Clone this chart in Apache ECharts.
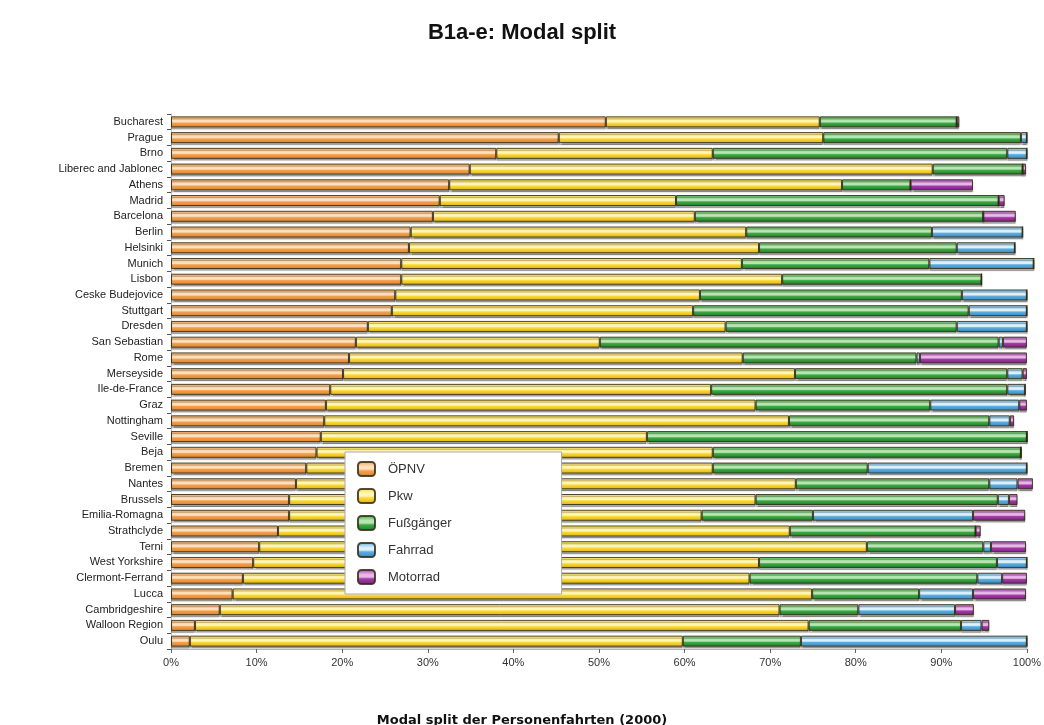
<!DOCTYPE html>
<html>
<head>
<meta charset="utf-8">
<script src="https://cdn.jsdelivr.net/npm/echarts@6/dist/echarts.min.js"></script>
<style>
  html, body { margin: 0; padding: 0; background: #fff; }
  #chart { width: 1044px; height: 725px; }
</style>
</head>
<body>
<div id="chart"></div>
<script>
const cities = [
  'Bucharest', 'Prague', 'Brno', 'Liberec and Jablonec', 'Athens', 'Madrid', 'Barcelona',
  'Berlin', 'Helsinki', 'Munich', 'Lisbon', 'Ceske Budejovice', 'Stuttgart', 'Dresden',
  'San Sebastian', 'Rome', 'Merseyside', 'Ile-de-France', 'Graz', 'Nottingham', 'Seville',
  'Beja', 'Bremen', 'Nantes', 'Brussels', 'Emilia-Romagna', 'Strathclyde', 'Terni',
  'West Yorkshire', 'Clermont-Ferrand', 'Lucca', 'Cambridgeshire', 'Walloon Region', 'Oulu'
];

// Anteile in %
const opnv = [50.8, 45.3, 38.0, 34.9, 32.5, 31.4, 30.6, 28.0, 27.8, 26.9, 26.9, 26.2, 25.8, 23.0,
  21.6, 20.8, 20.1, 18.6, 18.1, 17.9, 17.5, 17.0, 15.8, 14.6, 13.8, 13.8, 12.5, 10.3,
  9.6, 8.4, 7.2, 5.7, 2.8, 2.2];
const pkw = [25.0, 30.9, 25.3, 54.1, 45.9, 27.6, 30.6, 39.2, 40.9, 39.8, 44.5, 35.6, 35.2, 41.8,
  28.5, 46.0, 52.8, 44.5, 50.2, 54.3, 38.1, 46.3, 47.5, 58.4, 54.5, 48.2, 59.8, 71.0,
  59.1, 59.2, 67.7, 65.4, 71.7, 57.6];
const fuss = [16.0, 23.1, 34.4, 10.5, 8.0, 37.7, 33.7, 21.7, 23.1, 21.9, 23.3, 30.6, 32.2, 27.0,
  46.6, 20.3, 24.8, 34.6, 20.4, 23.4, 44.4, 36.0, 18.1, 22.6, 28.3, 13.0, 21.7, 13.6,
  27.8, 26.6, 12.5, 9.2, 17.8, 13.8];
const fahrrad = [0, 0.7, 2.3, 0, 0, 0, 0, 10.6, 6.8, 12.2, 0, 7.6, 6.8, 8.2,
  0.5, 0.4, 1.8, 2.1, 10.4, 2.4, 0, 0, 18.6, 3.3, 1.3, 18.7, 0, 0.9,
  3.5, 2.9, 6.3, 11.3, 2.4, 26.4];
const motorrad = [0.3, 0, 0, 0.4, 7.3, 0.7, 3.8, 0, 0, 0, 0, 0, 0, 0,
  2.8, 12.5, 0.5, 0, 0.9, 0.5, 0, 0, 0, 1.8, 1.0, 6.1, 0.6, 4.1,
  0, 2.9, 6.2, 2.2, 0.9, 0];

const xTicks = [0, 10, 20, 30, 40, 50, 60, 70, 80, 90, 100];

// Farbverlauf mit heller Mittellinie wie im Original
function shade(base, light, dark) {
  return new echarts.graphic.LinearGradient(0, 0, 0, 1, [
    { offset: 0, color: base },
    { offset: 0.35, color: light },
    { offset: 0.5, color: light },
    { offset: 0.62, color: base },
    { offset: 1, color: dark },
  ]);
}

const modes = [
  { name: 'ÖPNV', data: opnv, c: ['#F5A04C', '#FDE0BD', '#D9822E'] },
  { name: 'Pkw', data: pkw, c: ['#FDD835', '#FFF6B8', '#D9B21A'] },
  { name: 'Fußgänger', data: fuss, c: ['#3DAA45', '#B8E6B2', '#1E7A28'] },
  { name: 'Fahrrad', data: fahrrad, c: ['#5AAEE0', '#DDF0FB', '#3A86BC'] },
  { name: 'Motorrad', data: motorrad, c: ['#A43AA8', '#E8B8E8', '#7A1F7E'] },
];

const chart = echarts.init(document.getElementById('chart'));

chart.setOption({
  animation: false,
  textStyle: { fontFamily: 'Liberation Sans, Arial, sans-serif' },
  title: [
    {
      text: 'B1a-e: Modal split',
      left: 'center',
      top: 17,
      textStyle: { fontSize: 22, fontWeight: 'bold', color: '#111' },
    },
    {
      text: 'Modal split der Personenfahrten (2000)',
      left: 'center',
      top: 709,
      textStyle: { fontSize: 13, fontWeight: 'bold', color: '#111', fontFamily: 'DejaVu Sans' },
    },
  ],
  legend: {
    orient: 'vertical',
    left: 345,
    top: 452,
    itemWidth: 17,
    itemHeight: 14,
    itemGap: 11,
    padding: [9, 110, 9, 12],
    backgroundColor: '#fff',
    borderColor: '#aaa',
    borderWidth: 1,
    textStyle: { fontSize: 13, color: '#333', padding: [0, 0, 0, 8] },
    data: modes.map(m => m.name),
  },
  grid: { left: 171, right: 17, top: 114, bottom: 76 },
  xAxis: {
    type: 'value',
    min: 0,
    max: 100,
    interval: 10,
    axisLine: { show: true, lineStyle: { color: '#bbb' } },
    axisTick: { show: true, length: 4, lineStyle: { color: '#666' } },
    splitLine: { show: false },
    axisLabel: {
      fontSize: 11,
      color: '#333',
      margin: 8,
      formatter: v => (xTicks.includes(v) ? v + '%' : ''),
    },
  },
  yAxis: {
    type: 'category',
    inverse: true,
    data: cities,
    axisLine: { show: true, lineStyle: { color: '#bbb' } },
    axisTick: { show: true, length: 4, lineStyle: { color: '#555' } },
    axisLabel: { fontSize: 11, color: '#222', margin: 8 },
  },
  series: modes.map(m => ({
    name: m.name,
    type: 'bar',
    stack: 'total',
    barWidth: 11,
    clip: false,
    data: m.data,
    itemStyle: {
      color: shade(m.c[0], m.c[1], m.c[2]),
      borderColor: 'rgba(50,45,20,0.85)',
      borderWidth: 1,
      shadowColor: 'rgba(0,0,0,0.35)',
      shadowOffsetY: 2,
      shadowBlur: 1,
    },
  })),
});
</script>
</body>
</html>
